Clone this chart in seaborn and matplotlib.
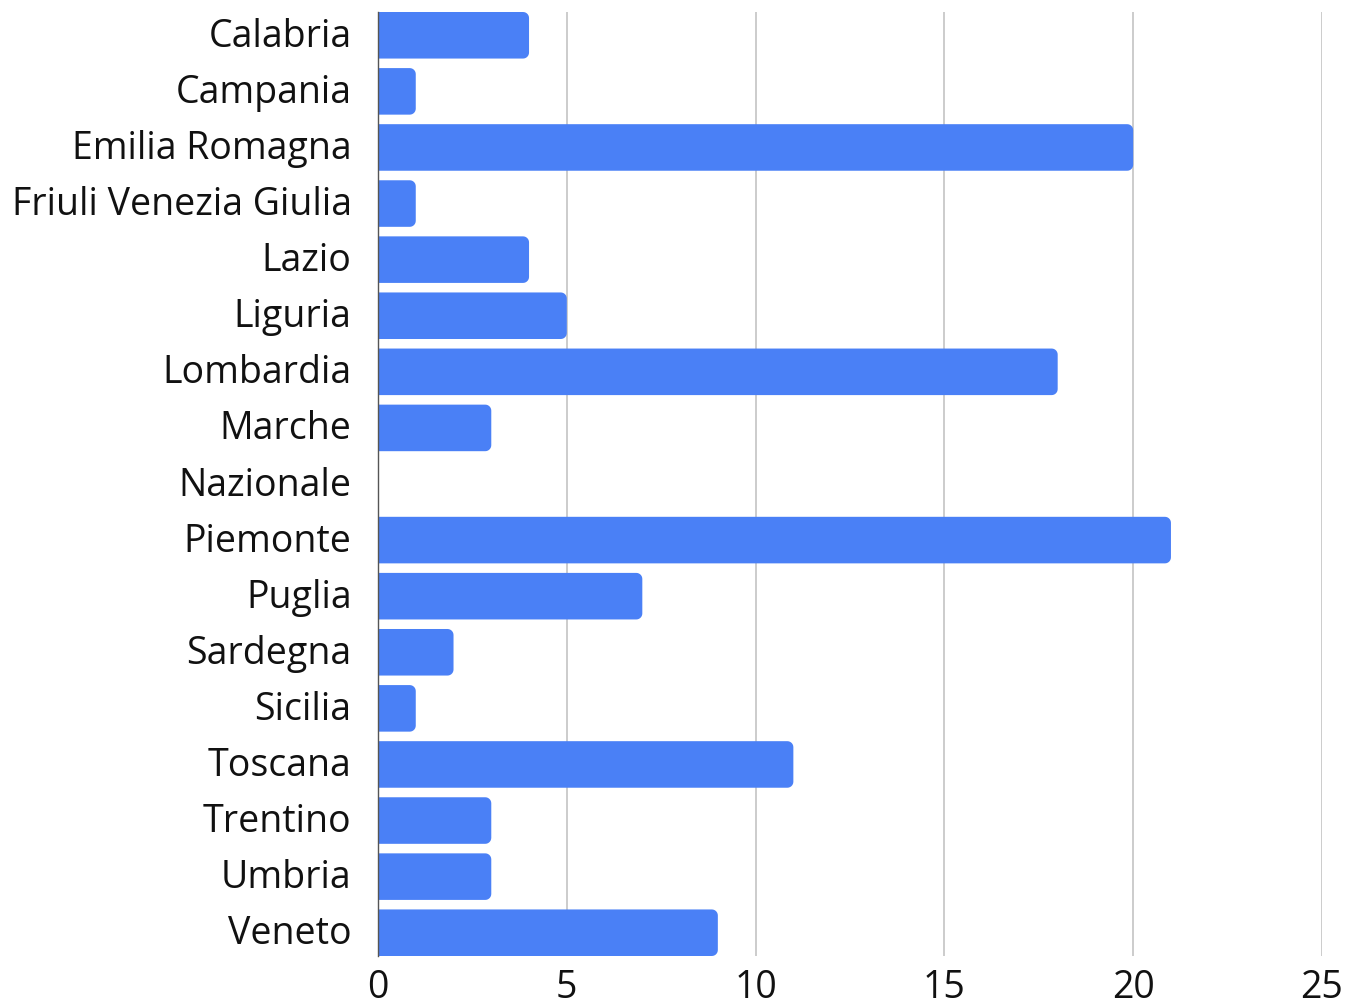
import matplotlib
matplotlib.use("Agg")
import matplotlib.pyplot as plt
import seaborn as sns
import numpy as np
import pandas as pd
from matplotlib.path import Path
from matplotlib.patches import PathPatch
from matplotlib.transforms import ScaledTranslation

regions = ["Calabria", "Campania", "Emilia Romagna", "Friuli Venezia Giulia", "Lazio",
           "Liguria", "Lombardia", "Marche", "Nazionale", "Piemonte", "Puglia",
           "Sardegna", "Sicilia", "Toscana", "Trentino", "Umbria", "Veneto"]
counts = [4, 1, 20, 1, 4, 5, 18, 3, 0, 21, 7, 2, 1, 11, 3, 3, 9]
xticks = [0, 5, 10, 15, 20, 25]

sns.set_theme(style="white")
plt.rcParams['font.family'] = ['Open Sans', 'DejaVu Sans']

df = pd.DataFrame({"region": regions, "count": counts})

W, H, DPI = 1346, 1007, 100
fig = plt.figure(figsize=(W / DPI, H / DPI), dpi=DPI)
ax_left, ax_right, ax_top, ax_bottom = 378, 1322, 12, 956
ax = fig.add_axes([ax_left / W, 1 - ax_bottom / H, (ax_right - ax_left) / W, (ax_bottom - ax_top) / H])

BAR = "#4a80f6"
sns.barplot(data=df, y="region", x="count", color=BAR, width=0.83, saturation=1, ax=ax, zorder=3)

ax.set_xlim(0, 25)
ax.set_ylim(len(regions) - 1 + 0.415, -0.415)
ax.set_xticks(xticks)
ax.set_xticklabels([str(t) for t in xticks])
ax.set_xlabel("")
ax.set_ylabel("")
ax.grid(axis="x", color="#c4c4c4", linewidth=1.2, zorder=0)
ax.set_axisbelow(True)
for s in ["top", "right", "bottom"]:
    ax.spines[s].set_visible(False)
ax.spines["left"].set_color("#555555")
ax.spines["left"].set_linewidth(1.0)
ax.spines["left"].set_zorder(5)
ax.tick_params(axis="y", length=0, pad=19, labelsize=27, labelcolor="#111111")
ax.tick_params(axis="x", length=0, pad=9, labelsize=27, labelcolor="#111111")

off = ScaledTranslation(0, 3 / DPI, fig.dpi_scale_trans)
for lab in ax.get_yticklabels():
    lab.set_transform(lab.get_transform() + off)

# rounded right corners
pxx = (ax_right - ax_left) / 25.0
pxy = (ax_bottom - ax_top) / (len(regions) - 1 + 0.83)
r = 6.0
for p in list(ax.patches):
    x0, y0 = p.get_x(), p.get_y()
    w, h = p.get_width(), p.get_height()
    if w <= 0:
        p.remove()
        continue
    rx = min(r / pxx, w / 2)
    ry = r / pxy
    x1, y1 = x0 + w, y0 + h
    verts = [(x0, y0), (x1 - rx, y0)]
    for t in np.linspace(-np.pi / 2, 0, 8):
        verts.append((x1 - rx + rx * np.cos(t), y0 + ry + ry * np.sin(t)))
    for t in np.linspace(0, np.pi / 2, 8):
        verts.append((x1 - rx + rx * np.cos(t), y1 - ry + ry * np.sin(t)))
    verts.append((x0, y1))
    verts.append((x0, y0))
    codes = [Path.MOVETO] + [Path.LINETO] * (len(verts) - 2) + [Path.CLOSEPOLY]
    pp = PathPatch(Path(verts, codes), facecolor=BAR, edgecolor="none", zorder=3)
    ax.add_patch(pp)
    p.remove()

fig.savefig("out.png", dpi=DPI, facecolor="white")
